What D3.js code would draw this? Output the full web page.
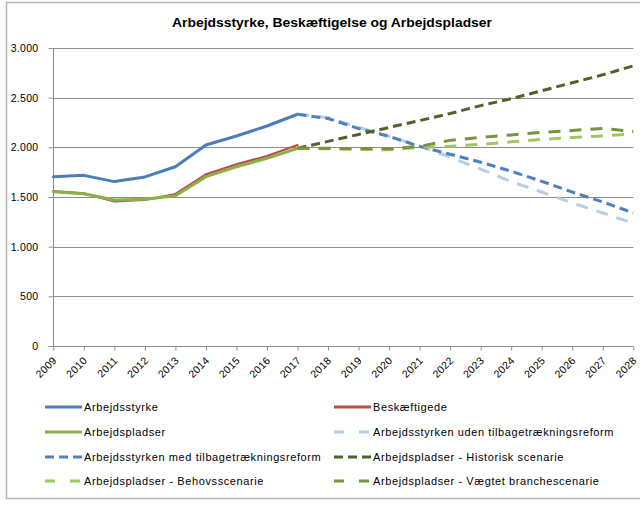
<!DOCTYPE html>
<html><head><meta charset="utf-8">
<script src="https://cdn.jsdelivr.net/npm/d3@7/dist/d3.min.js"></script>
<style>body{margin:0;background:#fff}svg{display:block}</style>
</head><body>
<script>
// ---- data ----
const years = [2009,2010,2011,2012,2013,2014,2015,2016,2017,2018,2019,2020,2021,2022,2023,2024,2025,2026,2027,2028];
const histYears = [2009,2010,2011,2012,2013,2014,2015,2016,2017];
const projYears = [2017,2018,2019,2020,2021,2022,2023,2024,2025,2026,2027,2028];
const yTicks = [0,500,1000,1500,2000,2500,3000];

const arbejdsstyrke   = [1705,1718,1655,1702,1805,2023,2114,2215,2333];
const beskaeftigede   = [1560,1537,1455,1470,1530,1728,1829,1913,2023];
const arbejdspladser  = [1553,1532,1470,1477,1513,1705,1805,1889,1990];
const udenReform      = [2333,2300,2200,2110,2015,1900,1780,1655,1550,1440,1340,1235];
const medReform       = [2333,2290,2190,2110,2010,1930,1850,1760,1658,1550,1450,1340];
const historisk       = [1990,2060,2130,2200,2270,2340,2420,2490,2570,2650,2730,2820];
const behov           = [1990,1985,1980,1975,2000,2010,2030,2055,2080,2100,2115,2135];
const vaegtet         = [1990,1990,1985,1985,2010,2070,2100,2125,2150,2170,2190,2160];

const seriesNames = ["Arbejdsstyrke","Beskæftigede","Arbejdspladser","Arbejdsstyrken uden tilbagetrækningsreform",
  "Arbejdsstyrken med tilbagetrækningsreform","Arbejdspladser - Historisk scenarie","Arbejdspladser - Behovsscenarie",
  "Arbejdspladser - Vægtet branchescenarie"];
const seriesValues = [arbejdsstyrke,beskaeftigede,arbejdspladser,udenReform,medReform,historisk,behov,vaegtet];
const seriesYears = [histYears,histYears,histYears,projYears,projYears,projYears,projYears,projYears];
const title = "Arbejdsstyrke, Beskæftigelse og Arbejdspladser";

// ---- styles ----
const styles = [
  {color:"#4A7EBB", w:3,   dash:null},
  {color:"#BE4B48", w:2.2, dash:null},
  {color:"#8AB145", w:3,   dash:null},
  {color:"#B9CDE5", w:3,   dash:"12,9", ldash:"10,15"},
  {color:"#4F81BD", w:3,   dash:"9,5", ldash:"9,5"},
  {color:"#4F6228", w:3,   dash:"9,5", ldash:"9,5"},
  {color:"#A4C565", w:3,   dash:"12,9", ldash:"10,15"},
  {color:"#77933C", w:3,   dash:"12,9", ldash:"10,15"}
];

const W=640,H=505;
const svg = d3.select("body").append("svg").attr("width",W).attr("height",H);
svg.append("rect").attr("width",W).attr("height",H).attr("fill","#fff");
// frame
svg.append("path").attr("d","M645,2.5H6.5V498.5H645").attr("fill","none").attr("stroke","#B3B3B3").attr("stroke-width",1.5);

const x = d3.scaleLinear().domain([2009,2028]).range([53.3,633.3]);
const y = d3.scaleLinear().domain([0,3000]).range([346,48]);
const loc = d3.formatLocale({decimal:",",thousands:".",grouping:[3],currency:["",""]});
const fmt = loc.format(",d");
const font = "'Liberation Sans', Arial, sans-serif";

svg.append("text").attr("x",332).attr("y",27).attr("text-anchor","middle")
  .attr("font-family",font).attr("font-weight","bold").attr("font-size",13.5)
  .attr("textLength",320).attr("lengthAdjust","spacingAndGlyphs").attr("fill","#000").text(title);

// gridlines
svg.append("g").selectAll("line").data(yTicks.filter(d=>d>0)).join("line")
  .attr("x1",x(2009)).attr("x2",x(2028)).attr("y1",d=>Math.round(y(d))+0.5).attr("y2",d=>Math.round(y(d))+0.5)
  .attr("stroke","#8C8C8C").attr("stroke-width",1);

// y axis
const ya = svg.append("g").attr("transform",`translate(${Math.round(x(2009))+0.5},0)`)
  .call(d3.axisLeft(y).tickValues(yTicks).tickFormat(fmt).tickSize(5).tickPadding(10));
ya.select(".domain").attr("stroke","#8C8C8C").attr("d",`M0,${y(0)}V${y(3000)}`);
ya.selectAll(".tick line").attr("stroke","#8C8C8C");
ya.selectAll(".tick text").attr("font-family",font).attr("font-size",10.5).attr("fill","#000").attr("letter-spacing",0.3);

// x axis
const xa = svg.append("g").attr("transform",`translate(0,${Math.round(y(0))+0.5})`)
  .call(d3.axisBottom(x).tickValues(years).tickFormat(d=>String(d)).tickSize(4));
xa.select(".domain").attr("stroke","#8C8C8C").attr("d",`M${x(2009)},0H${x(2028)}`);
xa.selectAll(".tick line").attr("stroke","#8C8C8C");
xa.selectAll(".tick text").attr("font-family",font).attr("font-size",10.5).attr("fill","#000")
  .attr("letter-spacing",0.3)
  .attr("text-anchor","end").attr("dy","0.35em").attr("y",0)
  .attr("transform","translate(1,12) rotate(-45)");

// lines
const line = d3.line().x(d=>x(d[0])).y(d=>y(d[1]));
seriesValues.forEach((vals,i)=>{
  const pts = seriesYears[i].map((yr,j)=>[yr,vals[j]]);
  const s = styles[i];
  svg.append("path").datum(pts).attr("d",line).attr("fill","none")
    .attr("stroke",s.color).attr("stroke-width",s.w).attr("stroke-dasharray",s.dash)
    .attr("stroke-linejoin","round").attr("stroke-linecap",s.dash?"butt":"round");
});

// legend
const cols = [45,334], rows=[407,432,457,481];
seriesNames.forEach((name,i)=>{
  const cx = cols[i%2], cy = rows[Math.floor(i/2)];
  const s = styles[i];
  svg.append("line").attr("x1",cx).attr("x2",cx+37).attr("y1",cy).attr("y2",cy)
    .attr("stroke",s.color).attr("stroke-width",3).attr("stroke-dasharray",s.ldash||null);
  svg.append("text").attr("x",cx+39).attr("y",cy+4).attr("font-family",font).attr("font-size",11)
    .attr("letter-spacing",0.6).attr("fill","#000").text(name);
});
</script>
</body></html>
